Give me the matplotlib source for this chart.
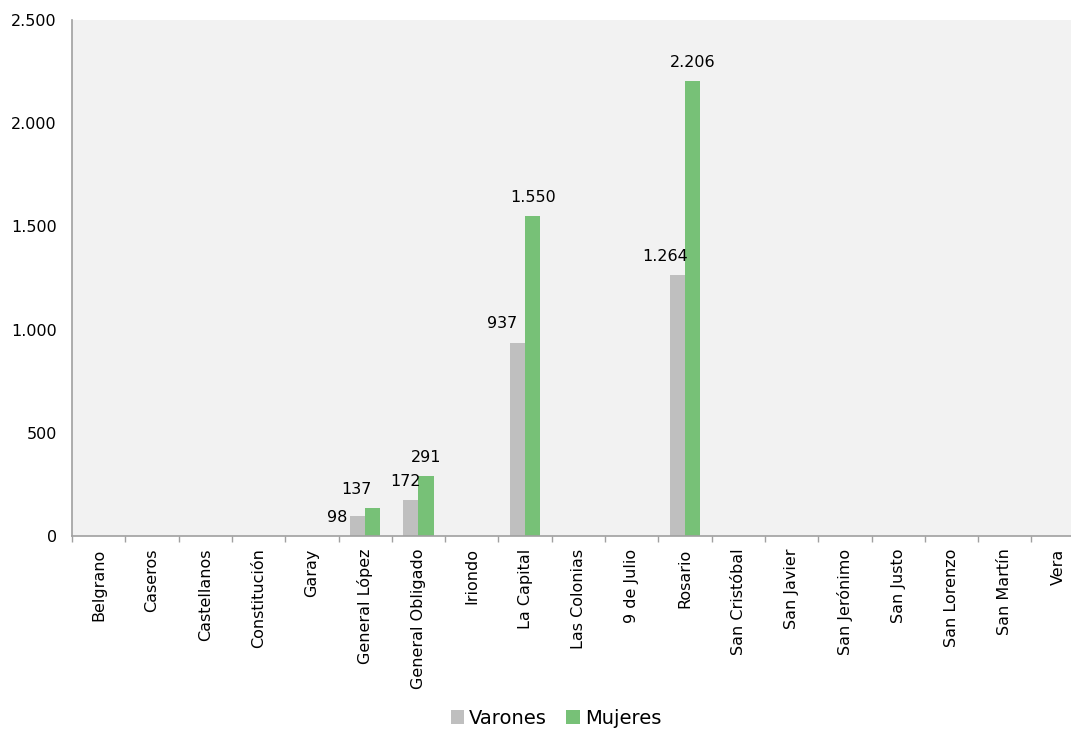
import matplotlib
matplotlib.use("Agg")
import matplotlib.pyplot as plt
import numpy as np
from matplotlib.ticker import FuncFormatter

categories = ["Belgrano", "Caseros", "Castellanos", "Constitución", "Garay",
              "General López", "General Obligado", "Iriondo", "La Capital",
              "Las Colonias", "9 de Julio", "Rosario", "San Cristóbal",
              "San Javier", "San Jerónimo", "San Justo", "San Lorenzo",
              "San Martín", "Vera"]
varones = [0, 0, 0, 0, 0, 98, 172, 0, 937, 0, 0, 1264, 0, 0, 0, 0, 0, 0, 0]
mujeres = [0, 0, 0, 0, 0, 137, 291, 0, 1550, 0, 0, 2206, 0, 0, 0, 0, 0, 0, 0]
series_names = ["Varones", "Mujeres"]
yticks = [0, 500, 1000, 1500, 2000, 2500]

c_var = "#BFBFBF"
c_muj = "#77C177"

W, H = 1071, 731
fig = plt.figure(figsize=(W / 100, H / 100), dpi=100)
left, right, top, bottom = 72, 72 + 19 * 53.3, 20, 536
ax = fig.add_axes([left / W, (H - bottom) / H, (right - left) / W, (bottom - top) / H])
ax.set_facecolor("#F2F2F2")

n = len(categories)
x = np.arange(n) + 0.5
bw = 0.285
b1 = ax.bar(x - bw / 2, varones, bw, color=c_var, label=series_names[0])
b2 = ax.bar(x + bw / 2, mujeres, bw, color=c_muj, label=series_names[1])

ax.set_xlim(0, n)
ax.set_ylim(0, 2500)

def fmt(v):
    return f"{int(v):,}".replace(",", ".")

fs = 11.5
# label offsets (points) to mimic the reference placement
var_off = {5: (-15, -6.5), 6: (-4, 8), 8: (-11, 8), 11: (-9, 8)}
muj_off = {5: (-12, 8), 6: (0, 8), 8: (0, 8), 11: (0, 8)}
for i in range(n):
    if varones[i] > 0:
        dx, dy = var_off.get(i, (0, 8))
        ax.annotate(fmt(varones[i]), (x[i] - bw / 2, varones[i]),
                    xytext=(dx, dy), textcoords="offset points",
                    ha="center", va="bottom", fontsize=fs, color="#000000")
    if mujeres[i] > 0:
        dx, dy = muj_off.get(i, (0, 8))
        ax.annotate(fmt(mujeres[i]), (x[i] + bw / 2, mujeres[i]),
                    xytext=(dx, dy), textcoords="offset points",
                    ha="center", va="bottom", fontsize=fs, color="#000000")

ax.set_yticks(yticks)
ax.yaxis.set_major_formatter(FuncFormatter(lambda v, p: fmt(v)))
ax.tick_params(axis="y", length=0, pad=11, labelsize=fs)

ax.set_xticks(np.arange(n + 1), minor=False)
ax.set_xticklabels([])
ax.set_xticks(x, minor=True)
ax.set_xticklabels(categories, minor=True, rotation=90, fontsize=fs)
ax.tick_params(axis="x", which="major", length=4.5, color="#A0A0A0", width=1)
ax.tick_params(axis="x", which="minor", length=0, pad=9)

for s in ["top", "right"]:
    ax.spines[s].set_visible(False)
for s in ["left", "bottom"]:
    ax.spines[s].set_color("#A0A0A0")
    ax.spines[s].set_linewidth(1.2)

fig.legend(handles=[b1, b2], labels=series_names, loc="center",
           bbox_to_anchor=(556 / W, 1 - 718 / H), ncol=2, frameon=False,
           fontsize=14, handlelength=0.7, handleheight=0.7, handletextpad=0.25,
           columnspacing=1.0)

fig.savefig("out.png", dpi=100)
